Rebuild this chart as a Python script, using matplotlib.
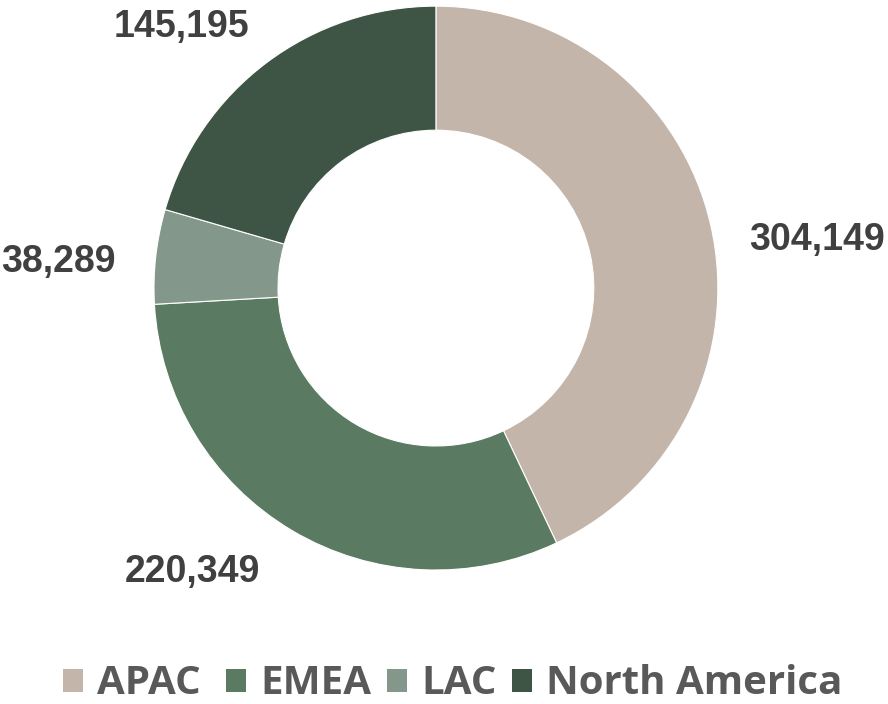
import matplotlib
matplotlib.use("Agg")
import matplotlib.pyplot as plt
from matplotlib.patches import Patch

# Regional totals
regions = ["APAC", "EMEA", "LAC", "North America"]
totals = [304149, 220349, 38289, 145195]
colors = ["#C4B5AA", "#5B7A62", "#83978A", "#3E5444"]

# Where each value label sits (axes data units, ring radius = 1)
label_xy = [(1.350, 0.170), (-0.865, -1.007), (-1.340, 0.092), (-0.901, 0.926)]

fig = plt.figure(figsize=(8.88, 7.04), dpi=100)
ax = fig.add_axes([0.1734, 0.1903, 0.635, 0.801])

wedges, _ = ax.pie(
    totals,
    colors=colors,
    startangle=90,
    counterclock=False,
    radius=1.0,
    wedgeprops=dict(width=0.44, edgecolor="white", linewidth=0.8),
)
ax.set_xlim(-1, 1)
ax.set_ylim(-1, 1)
ax.set_aspect("equal")
ax.axis("off")

for val, (x, y) in zip(totals, label_xy):
    ax.text(x, y, f"{val:,}", ha="center", va="center",
            fontsize=27, fontweight="bold", color="#404040",
            family="Liberation Sans", clip_on=False)

# legend row; the first entry keeps a little extra room after it
legend_labels = [regions[0] + " "] + regions[1:]
handles = [Patch(facecolor=c, edgecolor="none") for c in colors]
leg = fig.legend(
    handles, legend_labels,
    loc="center", bbox_to_anchor=(452.5 / 888, 1 - 684 / 704),
    ncol=4, frameon=False,
    prop=dict(family="Open Sans", weight="bold", size=29),
    handlelength=0.5, handleheight=0.5, handletextpad=0.35,
    columnspacing=0.38, borderpad=0, borderaxespad=0,
)
for t in leg.get_texts():
    t.set_color("#595959")

fig.savefig("out.png", dpi=100, facecolor="white")
